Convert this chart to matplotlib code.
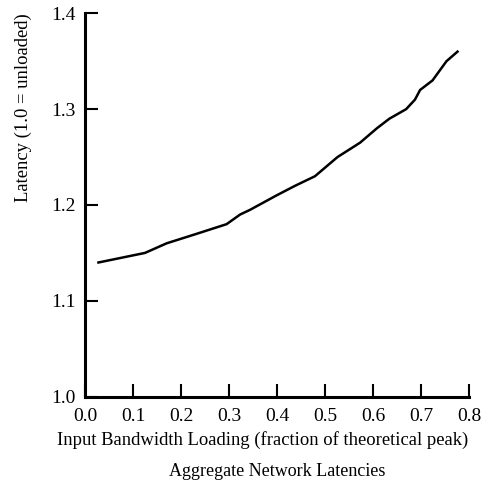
import matplotlib
matplotlib.use("Agg")
import matplotlib.pyplot as plt

# load vs. relative latency
load = [0.028, 0.125, 0.17, 0.233, 0.295, 0.323, 0.344, 0.399, 0.4375, 0.479,
        0.526, 0.573, 0.608, 0.634, 0.669, 0.6875, 0.698, 0.724, 0.753, 0.776]
latency = [1.14, 1.15, 1.16, 1.17, 1.18, 1.19, 1.195, 1.21, 1.22, 1.23,
           1.25, 1.265, 1.28, 1.29, 1.30, 1.31, 1.32, 1.33, 1.35, 1.36]

xticks = [0.0, 0.1, 0.2, 0.3, 0.4, 0.5, 0.6, 0.7, 0.8]
yticks = [1.0, 1.1, 1.2, 1.3, 1.4]

plt.rcParams['font.family'] = ['Liberation Serif', 'DejaVu Serif']
plt.rcParams['font.size'] = 13.4

fig = plt.figure(figsize=(4.86, 4.83), dpi=100)
ax = fig.add_axes([0.1749, 0.1787, 0.7902, 0.7938])

ax.plot(load, latency, color='black', linewidth=1.8)

ax.set_xlim(0, 0.8)
ax.set_ylim(1.0, 1.4)
ax.set_xticks(xticks)
ax.set_yticks(yticks)
ax.set_xticklabels(['%.1f' % t for t in xticks])
ax.set_yticklabels(['%.1f' % t for t in yticks])

for side in ['top', 'right']:
    ax.spines[side].set_visible(False)
for side in ['left', 'bottom']:
    ax.spines[side].set_linewidth(2.2)

ax.tick_params(axis='both', direction='in', length=9.5, width=1.5,
               colors='black', labelsize=14)
ax.tick_params(axis='x', pad=8)
ax.tick_params(axis='y', pad=6.5)

ax.set_xlabel('Input Bandwidth Loading (fraction of theoretical peak)')
ax.xaxis.set_label_coords(0.4635, -0.113)
ax.xaxis.label.set_va('center')

ax.set_ylabel('Latency (1.0 = unloaded)')
ax.yaxis.set_label_coords(-0.161, 0.755)
ax.yaxis.label.set_va('center')

ax.text(0.5, -0.194, 'Aggregate Network Latencies', transform=ax.transAxes,
        ha='center', va='center', fontsize=13)

fig.savefig("out.png", dpi=100)
